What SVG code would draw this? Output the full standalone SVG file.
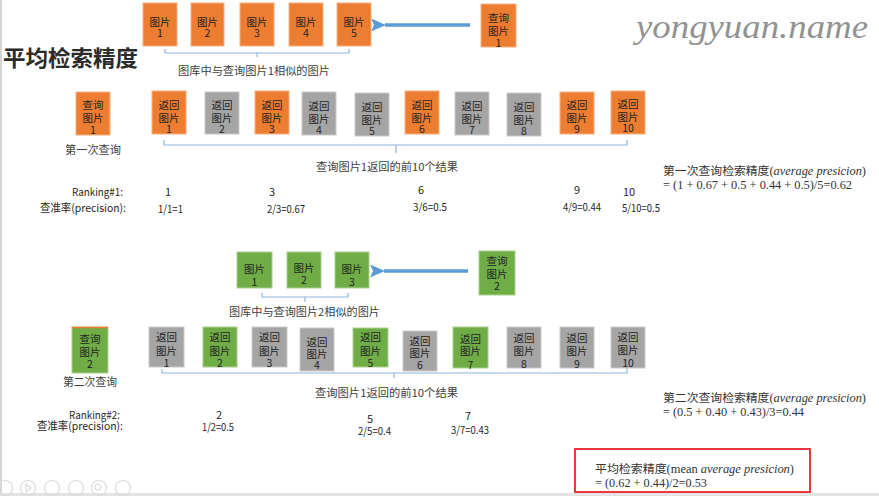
<svg xmlns="http://www.w3.org/2000/svg" width="879" height="496" viewBox="0 0 879 496">
<style>
  text { font-family: "Noto Sans CJK SC", "Noto Sans", sans-serif; fill: #262626; }
  .bt { font-size: 10.5px; text-anchor: middle; fill: #1f1f1f; }
  .lbl { font-size: 11px; fill: #404040; }
  .num { font-size: 11px; fill: #262626; text-anchor: middle; }
  .val { font-size: 11px; fill: #262626; }
  .rk { font-size: 11px; fill: #262626; }
  .f { font-size: 12px; fill: #333333; }
  .serif { font-family: "Liberation Serif", "DejaVu Serif", serif; }
  .it { font-family: "Liberation Serif", "DejaVu Serif", serif; font-style: italic; }
  .o { fill: #ED7D31; stroke: #F4B183; stroke-width: 1; }
  .g { fill: #A5A5A5; stroke: #C9C9C9; stroke-width: 1; }
  .gr { fill: #70AD47; stroke: #A9D18E; stroke-width: 1; }
  .br { fill: none; stroke: #8FB4DE; stroke-width: 1.2; }
  .ar { fill: none; stroke: #5B9BD5; stroke-width: 3.5; }
  .ui { fill: none; stroke: #DADADA; stroke-width: 1.2; }
</style>
<defs>
  <marker id="ah" markerUnits="userSpaceOnUse" markerWidth="16" markerHeight="14" refX="1" refY="7" orient="auto-start-reverse" viewBox="0 0 16 14">
    <path d="M0,7 L15,0.5 L12,7 L15,13.5 Z" fill="#5B9BD5"/>
  </marker>
</defs>
<rect x="0" y="0" width="879" height="496" fill="#ffffff"/>
<rect x="0" y="0" width="2" height="496" fill="#D4D4D4"/>
<rect x="0" y="493" width="879" height="3" fill="#E3E3E3"/>

<!-- watermark & title -->
<text x="636" y="38" font-size="33" class="it" style="fill:#929292" textLength="232" lengthAdjust="spacingAndGlyphs">yongyuan.name</text>
<text x="3" y="66" font-size="22" font-weight="bold" textLength="135" lengthAdjust="spacingAndGlyphs" style="fill:#2b2b2b">平均检索精度</text>

<!-- connectors -->
<g id="connectors">
  <path class="ar" d="M470,25 H385" marker-end="url(#ah)"/>
  <path class="ar" d="M468,271 H384" marker-end="url(#ah)"/>
  <path class="br" d="M165,49 V53 H349 V49 M257,53 V57"/>
  <path class="br" d="M164,140 V145 H627 V140 M396,145 V153"/>
  <path class="br" d="M262,293 V297 H348 V293 M305,297 V302"/>
  <path class="br" d="M162,369 V373 H627 V368 M394,373 V378"/>
</g>

<!-- top gallery -->
<g id="db1-1"><rect class="o" x="143" y="3" width="34" height="43"/><text class="bt"><tspan x="160" y="26">图片</tspan><tspan x="160" y="37">1</tspan></text></g>
<g id="db1-2"><rect class="o" x="191" y="3" width="33" height="43"/><text class="bt"><tspan x="207.5" y="26">图片</tspan><tspan x="207.5" y="37">2</tspan></text></g>
<g id="db1-3"><rect class="o" x="240" y="3" width="34" height="43"/><text class="bt"><tspan x="257" y="26">图片</tspan><tspan x="257" y="37">3</tspan></text></g>
<g id="db1-4"><rect class="o" x="289" y="3" width="34" height="43"/><text class="bt"><tspan x="306" y="26">图片</tspan><tspan x="306" y="37">4</tspan></text></g>
<g id="db1-5"><rect class="o" x="337" y="3" width="34" height="43"/><text class="bt"><tspan x="354" y="26">图片</tspan><tspan x="354" y="37">5</tspan></text></g>
<g id="q1-top"><rect class="o" x="481" y="4" width="35" height="43"/><text class="bt"><tspan x="498.5" y="21.5">查询</tspan><tspan x="498.5" y="34.5">图片</tspan><tspan x="498.5" y="46.5">1</tspan></text></g>
<text class="lbl" x="178" y="75" textLength="152" lengthAdjust="spacingAndGlyphs">图库中与查询图片1相似的图片</text>

<!-- row 1 -->
<g id="q1"><rect class="o" x="76" y="92" width="34" height="43"/><text class="bt"><tspan x="93" y="109">查询</tspan><tspan x="93" y="122">图片</tspan><tspan x="93" y="134">1</tspan></text></g>
<text class="lbl" x="65" y="154" font-size="11.5" textLength="56" lengthAdjust="spacingAndGlyphs">第一次查询</text>

<g id="r1-1"><rect class="o" x="152" y="91" width="34" height="43"/><text class="bt"><tspan x="169" y="109">返回</tspan><tspan x="169" y="122">图片</tspan><tspan x="169" y="133">1</tspan></text></g>
<g id="r1-2"><rect class="g" x="205" y="92" width="34" height="42"/><text class="bt"><tspan x="222" y="109">返回</tspan><tspan x="222" y="122">图片</tspan><tspan x="222" y="133">2</tspan></text></g>
<g id="r1-3"><rect class="o" x="255" y="91" width="34" height="43"/><text class="bt"><tspan x="272" y="109">返回</tspan><tspan x="272" y="122">图片</tspan><tspan x="272" y="133">3</tspan></text></g>
<g id="r1-4"><rect class="g" x="302" y="92" width="34" height="43"/><text class="bt"><tspan x="319" y="110">返回</tspan><tspan x="319" y="123">图片</tspan><tspan x="319" y="134">4</tspan></text></g>
<g id="r1-5"><rect class="g" x="355" y="93" width="34" height="43"/><text class="bt"><tspan x="372" y="111">返回</tspan><tspan x="372" y="124">图片</tspan><tspan x="372" y="135">5</tspan></text></g>
<g id="r1-6"><rect class="o" x="405" y="91" width="34" height="43"/><text class="bt"><tspan x="422" y="109">返回</tspan><tspan x="422" y="122">图片</tspan><tspan x="422" y="133">6</tspan></text></g>
<g id="r1-7"><rect class="g" x="455" y="92" width="34" height="43"/><text class="bt"><tspan x="472" y="110">返回</tspan><tspan x="472" y="123">图片</tspan><tspan x="472" y="134">7</tspan></text></g>
<g id="r1-8"><rect class="g" x="507" y="93" width="34" height="43"/><text class="bt"><tspan x="524" y="111">返回</tspan><tspan x="524" y="124">图片</tspan><tspan x="524" y="135">8</tspan></text></g>
<g id="r1-9"><rect class="o" x="560" y="92" width="34" height="42"/><text class="bt"><tspan x="577" y="109">返回</tspan><tspan x="577" y="122">图片</tspan><tspan x="577" y="133">9</tspan></text></g>
<g id="r1-10"><rect class="o" x="611" y="91" width="34" height="43"/><text class="bt"><tspan x="628" y="108">返回</tspan><tspan x="628" y="121">图片</tspan><tspan x="628" y="132">10</tspan></text></g>

<text class="lbl" x="316" y="171" font-size="11.5" textLength="142" lengthAdjust="spacingAndGlyphs">查询图片1返回的前10个结果</text>

<text class="rk" x="72" y="196" textLength="51" lengthAdjust="spacingAndGlyphs">Ranking#1:</text>
<text class="rk" x="40" y="212" textLength="86" lengthAdjust="spacingAndGlyphs">查准率(precision):</text>
<text class="num" x="168" y="196">1</text>
<text class="val" x="158" y="213" textLength="25" lengthAdjust="spacingAndGlyphs">1/1=1</text>
<text class="num" x="272" y="196">3</text>
<text class="val" x="267" y="213" textLength="38" lengthAdjust="spacingAndGlyphs">2/3=0.67</text>
<text class="num" x="421" y="194">6</text>
<text class="val" x="413" y="211" textLength="34" lengthAdjust="spacingAndGlyphs">3/6=0.5</text>
<text class="num" x="577" y="194">9</text>
<text class="val" x="563" y="211" textLength="38" lengthAdjust="spacingAndGlyphs">4/9=0.44</text>
<text class="num" x="629" y="196">10</text>
<text class="val" x="622" y="212" textLength="38" lengthAdjust="spacingAndGlyphs">5/10=0.5</text>

<text class="f"><tspan x="663" y="175" textLength="203" lengthAdjust="spacingAndGlyphs"><tspan font-size="11.5">第一次查询检索精度</tspan><tspan class="serif">(</tspan><tspan class="it">average presicion</tspan><tspan class="serif">)</tspan></tspan><tspan class="serif" x="663" y="188.5" textLength="189" lengthAdjust="spacingAndGlyphs">= (1 + 0.67 + 0.5 + 0.44 + 0.5)/5=0.62</tspan></text>

<!-- second gallery -->
<g id="db2-1"><rect class="gr" x="237" y="252" width="35" height="36"/><text class="bt"><tspan x="254.5" y="273">图片</tspan><tspan x="254.5" y="285.5">1</tspan></text></g>
<g id="db2-2"><rect class="gr" x="287" y="252" width="34" height="36"/><text class="bt"><tspan x="304" y="271.5">图片</tspan><tspan x="304" y="284">2</tspan></text></g>
<g id="db2-3"><rect class="gr" x="335" y="252" width="34" height="36"/><text class="bt"><tspan x="352" y="273">图片</tspan><tspan x="352" y="286">3</tspan></text></g>
<g id="q2-top"><rect class="gr" x="479" y="251" width="36" height="44"/><text class="bt"><tspan x="497" y="265">查询</tspan><tspan x="497" y="278">图片</tspan><tspan x="497" y="289.5">2</tspan></text></g>
<text class="lbl" x="229" y="316" textLength="151" lengthAdjust="spacingAndGlyphs">图库中与查询图片2相似的图片</text>

<!-- row 2 -->
<g id="q2"><rect class="gr" x="72" y="327" width="36" height="46"/><line x1="72" y1="327.5" x2="108" y2="327.5" stroke="#ED7D31" stroke-width="1.5"/><text class="bt"><tspan x="90" y="343">查询</tspan><tspan x="90" y="356">图片</tspan><tspan x="90" y="368">2</tspan></text></g>
<text class="lbl" x="63" y="386" font-size="11.5" textLength="54" lengthAdjust="spacingAndGlyphs">第二次查询</text>

<g id="r2-1"><rect class="g" x="149" y="327" width="35" height="40"/><text class="bt"><tspan x="166.5" y="341">返回</tspan><tspan x="166.5" y="355">图片</tspan><tspan x="166.5" y="367">1</tspan></text></g>
<g id="r2-2"><rect class="gr" x="203" y="327" width="34" height="40"/><text class="bt"><tspan x="220" y="341">返回</tspan><tspan x="220" y="355">图片</tspan><tspan x="220" y="367">2</tspan></text></g>
<g id="r2-3"><rect class="g" x="252" y="327" width="35" height="40"/><text class="bt"><tspan x="269.5" y="341">返回</tspan><tspan x="269.5" y="355">图片</tspan><tspan x="269.5" y="367">3</tspan></text></g>
<g id="r2-4"><rect class="g" x="300" y="328" width="34" height="43"/><text class="bt"><tspan x="317" y="346">返回</tspan><tspan x="317" y="357.5">图片</tspan><tspan x="317" y="369">4</tspan></text></g>
<g id="r2-5"><rect class="gr" x="353" y="328" width="35" height="39"/><text class="bt"><tspan x="370.5" y="341">返回</tspan><tspan x="370.5" y="355">图片</tspan><tspan x="370.5" y="367">5</tspan></text></g>
<g id="r2-6"><rect class="g" x="403" y="331" width="34" height="40"/><text class="bt"><tspan x="420" y="344.5">返回</tspan><tspan x="420" y="357">图片</tspan><tspan x="420" y="369">6</tspan></text></g>
<g id="r2-7"><rect class="gr" x="453" y="327" width="35" height="41"/><text class="bt"><tspan x="470.5" y="343">返回</tspan><tspan x="470.5" y="355">图片</tspan><tspan x="470.5" y="368.5">7</tspan></text></g>
<g id="r2-8"><rect class="g" x="507" y="327" width="34" height="41"/><text class="bt"><tspan x="524" y="342">返回</tspan><tspan x="524" y="354.5">图片</tspan><tspan x="524" y="367.5">8</tspan></text></g>
<g id="r2-9"><rect class="g" x="560" y="327" width="34" height="41"/><text class="bt"><tspan x="577" y="342">返回</tspan><tspan x="577" y="354.5">图片</tspan><tspan x="577" y="367.5">9</tspan></text></g>
<g id="r2-10"><rect class="g" x="611" y="327" width="34" height="41"/><text class="bt"><tspan x="628" y="341">返回</tspan><tspan x="628" y="354">图片</tspan><tspan x="628" y="367">10</tspan></text></g>

<text class="lbl" x="315" y="397" font-size="11.5" textLength="143" lengthAdjust="spacingAndGlyphs">查询图片1返回的前10个结果</text>

<text class="rk"><tspan x="69" y="419" textLength="51" lengthAdjust="spacingAndGlyphs">Ranking#2:</tspan><tspan x="37" y="430" textLength="86" lengthAdjust="spacingAndGlyphs">查准率(precision):</tspan></text>
<text class="val"><tspan class="num" x="219" y="419">2</tspan><tspan x="202" y="431" textLength="32" lengthAdjust="spacingAndGlyphs">1/2=0.5</tspan></text>
<text class="val"><tspan class="num" x="370" y="423">5</tspan><tspan x="358" y="435" textLength="33" lengthAdjust="spacingAndGlyphs">2/5=0.4</tspan></text>
<text class="val"><tspan class="num" x="468" y="420">7</tspan><tspan x="451" y="434" textLength="38" lengthAdjust="spacingAndGlyphs">3/7=0.43</tspan></text>

<text class="f"><tspan x="663" y="402" textLength="203" lengthAdjust="spacingAndGlyphs"><tspan font-size="11.5">第二次查询检索精度</tspan><tspan class="serif">(</tspan><tspan class="it">average presicion</tspan><tspan class="serif">)</tspan></tspan><tspan class="serif" x="663" y="416" textLength="141" lengthAdjust="spacingAndGlyphs">= (0.5 + 0.40 + 0.43)/3=0.44</tspan></text>

<!-- result box -->
<g id="map">
  <rect x="575" y="449" width="235" height="43" fill="none" stroke="#E8383D" stroke-width="2"/>
  <text class="f"><tspan x="595" y="473" textLength="199" lengthAdjust="spacingAndGlyphs"><tspan font-size="11.5">平均检索精度</tspan><tspan class="serif">(mean </tspan><tspan class="it">average presicion</tspan><tspan class="serif">)</tspan></tspan><tspan class="serif" x="595" y="487" textLength="112" lengthAdjust="spacingAndGlyphs">= (0.62 + 0.44)/2=0.53</tspan></text>
</g>

<!-- faint slide controls -->
<g id="controls">
  <circle class="ui" cx="5" cy="488" r="7.5"/>
  <circle class="ui" cx="28" cy="488" r="7.5"/>
  <circle class="ui" cx="52" cy="488" r="7.5"/>
  <circle class="ui" cx="76" cy="488" r="7.5"/>
  <circle class="ui" cx="99" cy="488" r="7.5"/>
  <circle class="ui" cx="123" cy="488" r="7.5"/>
  <path class="ui" d="M26,484 L31,488 L26,492 Z"/>
  <circle class="ui" cx="98" cy="487" r="3"/>
</g>
</svg>
